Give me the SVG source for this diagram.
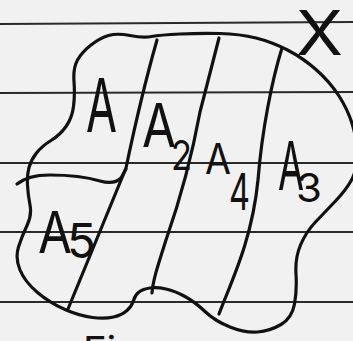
<svg xmlns="http://www.w3.org/2000/svg" width="353" height="341" viewBox="0 0 353 341">
<style>
.rule{stroke:#2a2a2a;stroke-width:2.2;fill:none}
.ink{stroke:#111;stroke-width:3.2;fill:none;stroke-linecap:round;stroke-linejoin:round}
.lbl{font-family:Inter,"Liberation Sans",sans-serif;font-weight:400;fill:#111}
</style>
<rect width="353" height="341" fill="#f1f1f1"/>
<g id="paper-lines">
<line class="rule" x1="0" y1="24" x2="353" y2="22"/>
<line class="rule" x1="0" y1="93" x2="353" y2="92"/>
<line class="rule" x1="0" y1="163" x2="353" y2="163"/>
<line class="rule" x1="0" y1="232" x2="353" y2="232"/>
<line class="rule" x1="0" y1="302" x2="353" y2="302"/>
</g>
<g id="region-outline">
<path class="ink" d="M108.5,35.5 Q117,33 130,35.5 Q143,38 151.5,36.5 Q160,35 180,34 Q200,33 220,33.5 Q240,34 256,38 Q272,42 287.5,50 Q303,58 316.5,70 Q330,82 339,96 Q348,110 352.5,125 Q357,140 357,155 Q357,170 351.5,180 Q346,190 335.5,201 Q325,212 315.5,222 Q306,232 300.5,245 Q295,258 296,274 Q297,290 294.5,304 Q292,318 281,324.5 Q270,331 257.5,332 Q245,333 230,327 Q215,321 205,311.5 Q195,302 185,296.5 Q175,291 166,289 Q157,287 150,288 Q143,289 139,292 Q135,295 133.5,300.5 Q132,306 127,310.5 Q122,315 113.5,317 Q105,319 92.5,317.5 Q80,316 65,309.5 Q50,303 37.5,292.5 Q25,282 20,270 Q15,258 18.5,247 Q22,236 27,225.5 Q32,215 30,205 Q28,195 27.5,185 Q27,175 29,167.5 Q31,160 36.5,153 Q42,146 51,140.5 Q60,135 66,126.5 Q72,118 73.5,106.5 Q75,95 74,81.5 Q73,68 77.5,60 Q82,52 91,45 Q100,38 108.5,35.5 Z"/>
</g>
<g id="dividers">
<path class="ink" d="M17,184 Q28,175 50,175 Q80,175 100,181 Q114,185 121,178 L126,169"/>
<path class="ink" d="M157,40 C147,75 135,125 126,168 L68,309"/>
<path class="ink" d="M219,38 L200,112 C193,150 180,200 166,240 C158,265 153,280 152,293"/>
<path class="ink" d="M282,48 C272,80 262,130 258,180 C252,240 232,280 219,314"/>
</g>
<g id="label-A"><text class="lbl" x="86" y="132" font-size="74" textLength="31" lengthAdjust="spacingAndGlyphs">A</text></g>
<g id="label-A2"><text class="lbl"><tspan x="142" y="147" font-size="60" textLength="34" lengthAdjust="spacingAndGlyphs">A</tspan><tspan x="171" y="170" font-size="41" textLength="21" lengthAdjust="spacingAndGlyphs">2</tspan></text></g>
<g id="label-A4"><text class="lbl"><tspan x="205" y="174" font-size="42" textLength="26" lengthAdjust="spacingAndGlyphs">A</tspan><tspan x="229" y="210" font-size="50" textLength="21" lengthAdjust="spacingAndGlyphs">4</tspan></text></g>
<g id="label-A3"><text class="lbl"><tspan x="278" y="190" font-size="68" textLength="26" lengthAdjust="spacingAndGlyphs">A</tspan><tspan x="296" y="202" font-size="40" textLength="26" lengthAdjust="spacingAndGlyphs">3</tspan></text></g>
<g id="label-A5"><text class="lbl"><tspan x="38" y="253" font-size="58" textLength="34" lengthAdjust="spacingAndGlyphs">A</tspan><tspan x="67" y="258" font-size="48" textLength="29" lengthAdjust="spacingAndGlyphs">5</tspan></text></g>
<g id="label-X"><text class="lbl" x="296" y="55" font-size="62" textLength="47" lengthAdjust="spacingAndGlyphs">X</text></g>
<g id="label-bottom"><text class="lbl" x="83" y="365" font-size="40">Fi</text></g>
</svg>
